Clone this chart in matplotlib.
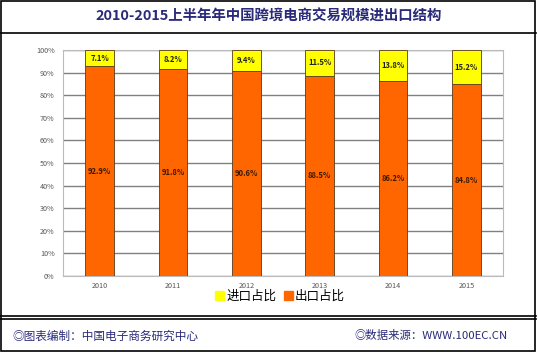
import matplotlib
matplotlib.use("Agg")
import matplotlib.pyplot as plt
from matplotlib.patches import Rectangle
from matplotlib.lines import Line2D

plt.rcParams['font.family'] = ['Noto Sans CJK SC', 'DejaVu Sans']

years = ['2010', '2011', '2012', '2013', '2014', '2015']
export_share = [92.9, 91.8, 90.6, 88.5, 86.2, 84.8]
import_share = [7.1, 8.2, 9.4, 11.5, 13.8, 15.2]
y_ticks = [0, 10, 20, 30, 40, 50, 60, 70, 80, 90, 100]

title = '2010-2015上半年年中国跨境电商交易规模进出口结构'
footer_left = '◎图表编制：中国电子商务研究中心'
footer_right = '◎数据来源：WWW.100EC.CN'
legend_labels = ['进口占比', '出口占比']

W, H = 538, 354
fig = plt.figure(figsize=(W / 100, H / 100), dpi=100)
fig.patch.set_facecolor('white')

def fy(py):
    return 1 - py / H

def fx(px):
    return px / W

# frames
frame_kw = dict(transform=fig.transFigure, color='black', lw=1.2)
fig.add_artist(Rectangle((fx(1), fy(351)), fx(535) - fx(1), fy(1) - fy(351),
                         transform=fig.transFigure, fill=False, edgecolor='black', lw=1.2))
fig.add_artist(Line2D([fx(1), fx(536)], [fy(33), fy(33)], **frame_kw))
fig.add_artist(Line2D([fx(1), fx(536)], [fy(316), fy(316)], **frame_kw))
fig.add_artist(Line2D([fx(1), fx(536)], [fy(318.5), fy(318.5)], **frame_kw))

navy = '#2A2A7A'
fig.text(0.5, fy(17), title, ha='center', va='center', fontsize=10.4,
         fontweight='bold', color=navy)
fig.text(fx(12), fy(336), footer_left, ha='left', va='center', fontsize=8.4, color=navy)
fig.text(fx(508), fy(336), footer_right, ha='right', va='center', fontsize=8.2, color=navy)

ax = fig.add_axes([fx(63), fy(276), fx(503) - fx(63), fy(50) - fy(276)])
x = list(range(len(years)))
bw = 0.39
orange = '#FF6600'
yellow = '#FFFF00'
edge = '#5A3A1A'
b1 = ax.bar(x, export_share, width=bw, color=orange, edgecolor=edge, linewidth=0.6, zorder=3)
b2 = ax.bar(x, import_share, width=bw, bottom=export_share, color=yellow,
            edgecolor=edge, linewidth=0.6, zorder=3)

for i in x:
    ax.text(i, export_share[i] / 2, f'{export_share[i]:.1f}%', ha='center', va='center',
            fontsize=5.5, fontweight='bold', color='#3A1A00', zorder=4)
    ax.text(i, export_share[i] + import_share[i] / 2, f'{import_share[i]:.1f}%',
            ha='center', va='center', fontsize=5.5, fontweight='bold', color='#222222', zorder=4)

ax.set_xlim(-0.5, len(years) - 0.5)
ax.set_ylim(0, 100)
ax.set_yticks(y_ticks)
ax.set_yticklabels([f'{t}%' for t in y_ticks])
ax.set_xticks(x)
ax.set_xticklabels(years)
ax.tick_params(axis='both', labelsize=5.2, colors='#555555', length=0, pad=6)
ax.tick_params(axis='x', pad=4)
ax.grid(axis='y', color='#808080', linewidth=1.0, zorder=0)
for s in ax.spines.values():
    s.set_color('#BBBBBB')
    s.set_linewidth(0.8)

handles = [Rectangle((0, 0), 1, 1, color=yellow), Rectangle((0, 0), 1, 1, color=orange)]
fig.legend(handles, legend_labels, loc='center', bbox_to_anchor=(fx(280), fy(296)),
           ncol=2, frameon=False, fontsize=9, handlelength=0.7, handleheight=0.7,
           handletextpad=0.2, columnspacing=0.6)

fig.savefig('out.png', dpi=100)
